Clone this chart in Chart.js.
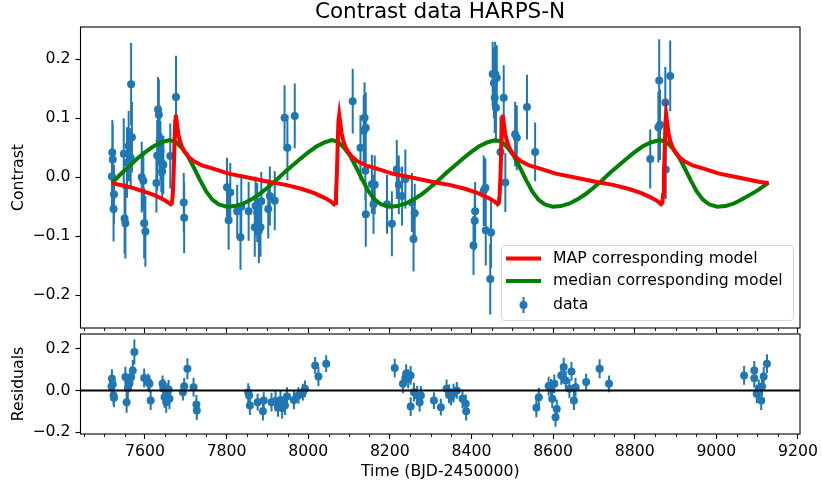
<!DOCTYPE html>
<html>
<head>
<meta charset="utf-8">
<script src="https://cdn.jsdelivr.net/npm/chart.js@4.4.1/dist/chart.umd.min.js"></script>
<style>
  html, body { margin: 0; padding: 0; background: #fff; }
  #wrap { position: relative; width: 822px; height: 487px; overflow: hidden; font-family: 'DejaVu Sans', sans-serif; }
  #title { position: absolute; left: 80px; width: 720px; top: -2px; line-height: 26px; text-align: center; font-size: 21.5px; color: #000; white-space: nowrap; }
  #topChart { position: absolute; left: 0; top: 0; }
  #resChart { position: absolute; left: 0; top: 330px; }
</style>
</head>
<body>
<div id="wrap">
  <canvas id="topChart" width="822" height="340"></canvas>
  <canvas id="resChart" width="822" height="157"></canvas>
  <div id="title">Contrast data HARPS-N</div>
</div>
<script>
// Axis ranges / ticks
const X_MIN = 7442, X_MAX = 9205;
const xTicks = [7600, 7800, 8000, 8200, 8400, 8600, 8800, 9000, 9200];
const yTicksTop = [-0.2, -0.1, 0.0, 0.1, 0.2];
const yTicksRes = [-0.2, 0.0, 0.2];

// Contrast data (time, value, error)
const dataTime = [7519, 7520, 7521, 7524, 7523, 7548, 7550, 7552, 7556, 7560, 7565, 7566, 7568,
  7592, 7596, 7598, 7601, 7628, 7630, 7632, 7634, 7636, 7638, 7640, 7642, 7645, 7662, 7676, 7695, 7696,
  7801, 7805, 7809, 7826, 7834, 7836, 7854, 7869, 7871, 7875, 7879, 7883, 7885, 7902, 7906, 7918, 7942, 7949, 7967,
  8109, 8128, 8136, 8138, 8141, 8140, 8141, 8156, 8160, 8163, 8193, 8205, 8217, 8222, 8230, 8238, 8254, 8261, 8258,
  8405, 8408, 8409, 8430, 8434, 8435, 8448, 8446, 8452, 8455, 8458, 8460, 8462, 8457, 8471, 8479, 8483, 8507, 8511, 8536, 8556,
  8838, 8858, 8860, 8862, 8875, 8876, 8887];
const dataContrast = [0.001, 0.042, 0.030, -0.029, -0.054, 0.040, -0.070, -0.078, 0.025, 0.053, 0.033, 0.158, 0.068,
  0.000, -0.006, -0.078, -0.092, -0.010, 0.037, 0.115, 0.106, 0.062, 0.045, 0.025, 0.010, 0.021, 0.036, 0.136, -0.043, -0.069,
  -0.017, -0.073, -0.026, -0.058, -0.102, -0.050, -0.058, -0.085, -0.049, -0.060, -0.091, -0.085, -0.041, -0.054, -0.032, -0.040, 0.101, 0.050, 0.104,
  0.129, 0.050, 0.079, 0.101, 0.084, 0.011, -0.063, -0.012, -0.046, -0.013, -0.046, -0.079, 0.013, -0.013, -0.032, -0.003, -0.043, -0.061, -0.105,
  -0.116, -0.074, -0.058, -0.023, -0.018, -0.090, -0.094, -0.173, 0.175, 0.160, 0.175, 0.118, 0.169, 0.135, 0.043, 0.135, -0.009, 0.073, 0.067, 0.119, 0.043,
  0.031, 0.085, 0.164, 0.089, 0.127, 0.013, 0.172];
const dataError = [0.050, 0.055, 0.060, 0.050, 0.055, 0.060, 0.060, 0.060, 0.060, 0.060, 0.050, 0.070, 0.060,
  0.060, 0.050, 0.060, 0.060, 0.050, 0.060, 0.055, 0.060, 0.060, 0.050, 0.050, 0.050, 0.050, 0.055, 0.070, 0.050, 0.060,
  0.050, 0.050, 0.050, 0.045, 0.055, 0.050, 0.050, 0.050, 0.050, 0.050, 0.055, 0.050, 0.050, 0.050, 0.050, 0.050, 0.055, 0.055, 0.055,
  0.055, 0.055, 0.060, 0.060, 0.060, 0.050, 0.055, 0.050, 0.050, 0.050, 0.050, 0.055, 0.050, 0.050, 0.050, 0.050, 0.050, 0.050, 0.055,
  0.050, 0.050, 0.050, 0.060, 0.050, 0.060, 0.060, 0.060, 0.055, 0.060, 0.055, 0.060, 0.055, 0.060, 0.060, 0.055, 0.050, 0.055, 0.055, 0.055, 0.050,
  0.050, 0.060, 0.070, 0.060, 0.060, 0.050, 0.060];

// MAP corresponding model
const mapTime = [7519, 7545, 7570, 7600, 7625, 7645, 7655, 7663, 7666, 7668, 7670, 7672, 7674, 7675.5,
  7678.5, 7681.5, 7685.5, 7690.5, 7697.5, 7707.5, 7720, 7740, 7765, 7805, 7855, 7905, 7945, 7985, 8015, 8040, 8055, 8063, 8066, 8068, 8070, 8072, 8074, 8076,
  8079, 8082, 8086, 8091, 8098, 8108, 8121, 8141, 8166, 8206, 8256, 8306, 8346, 8386, 8416, 8441, 8456, 8464, 8467, 8469, 8471, 8473, 8475, 8476.5,
  8479.5, 8482.5, 8486.5, 8491.5, 8498.5, 8508.5, 8521.5, 8541.5, 8566.5, 8606.5, 8656.5, 8706.5, 8746.5, 8786.5, 8816.5, 8841.5, 8856.5, 8864.5, 8867.5, 8869.5, 8871.5, 8873.5, 8875.5, 8877,
  8880, 8883, 8887, 8892, 8899, 8909, 8922, 8942, 8967, 9007, 9057, 9107, 9128];
const mapContrast = [-0.010, -0.014, -0.018, -0.025, -0.031, -0.038, -0.042, -0.046, -0.044, -0.030, 0.000, 0.050, 0.095, 0.106,
  0.090, 0.074, 0.062, 0.052, 0.043, 0.034, 0.027, 0.020, 0.015, 0.006, -0.001, -0.008, -0.013, -0.020, -0.027, -0.035, -0.041, -0.046, -0.044, -0.030, 0.000, 0.050, 0.095, 0.106,
  0.090, 0.074, 0.062, 0.052, 0.043, 0.034, 0.027, 0.020, 0.015, 0.006, -0.001, -0.008, -0.013, -0.020, -0.027, -0.035, -0.041, -0.046, -0.044, -0.030, 0.000, 0.050, 0.095, 0.106,
  0.090, 0.074, 0.062, 0.052, 0.043, 0.034, 0.027, 0.020, 0.015, 0.006, -0.001, -0.008, -0.013, -0.020, -0.027, -0.035, -0.041, -0.046, -0.044, -0.030, 0.000, 0.050, 0.095, 0.106,
  0.090, 0.074, 0.062, 0.052, 0.043, 0.034, 0.027, 0.020, 0.015, 0.006, -0.001, -0.008, -0.010];

// median corresponding model
const medTime = [7519, 7540, 7560, 7580, 7600, 7620, 7640, 7660,
  7675, 7690, 7705, 7720, 7735, 7750, 7765, 7780, 7800, 7820, 7840, 7860, 7880, 7900, 7920, 7940, 7960, 7980, 8000, 8020, 8040, 8058,
  8073, 8088, 8103, 8118, 8133, 8148, 8163, 8178, 8198, 8218, 8238, 8258, 8278, 8298, 8318, 8338, 8358, 8378, 8398, 8418, 8438, 8459,
  8474, 8489, 8504, 8519, 8534, 8549, 8564, 8579, 8599, 8619, 8639, 8659, 8679, 8699, 8719, 8739, 8759, 8779, 8799, 8819, 8839, 8862,
  8877, 8892, 8907, 8922, 8937, 8952, 8967, 8982, 9002, 9022, 9042, 9062, 9082, 9102, 9128];
const medContrast = [-0.010, 0.005, 0.018, 0.031, 0.042, 0.052, 0.059, 0.063,
  0.060, 0.050, 0.036, 0.016, -0.005, -0.024, -0.038, -0.046, -0.050, -0.049, -0.045, -0.038, -0.029, -0.018, -0.006, 0.007, 0.019, 0.031, 0.042, 0.052, 0.059, 0.063,
  0.060, 0.050, 0.036, 0.016, -0.005, -0.024, -0.038, -0.046, -0.050, -0.049, -0.045, -0.038, -0.029, -0.018, -0.006, 0.007, 0.019, 0.031, 0.042, 0.052, 0.059, 0.063,
  0.060, 0.050, 0.036, 0.016, -0.005, -0.024, -0.038, -0.046, -0.050, -0.049, -0.045, -0.038, -0.029, -0.018, -0.006, 0.007, 0.019, 0.031, 0.042, 0.052, 0.059, 0.063,
  0.060, 0.050, 0.036, 0.016, -0.005, -0.024, -0.038, -0.046, -0.050, -0.049, -0.045, -0.038, -0.030, -0.022, -0.009];

// Residuals (time, value, error)
const resTime = [7518, 7519, 7521, 7523, 7524, 7552, 7555, 7558, 7562, 7566, 7570, 7574, 7598, 7608, 7611, 7614,
  7643, 7645, 7648, 7652, 7655, 7658, 7660, 7693, 7696, 7704, 7719, 7726, 7727,
  7853, 7855, 7857, 7876, 7889, 7891, 7910, 7920, 7926, 7932, 7936, 7943, 7948, 7965, 7976, 7987, 7992, 8017, 8025, 8044,
  8212, 8232, 8238, 8240, 8245, 8251, 8251, 8259, 8267, 8273, 8276, 8308, 8325, 8339, 8345, 8350, 8356, 8364, 8378, 8386, 8387,
  8559, 8565, 8589, 8595, 8598, 8603, 8606, 8609, 8620, 8626, 8631, 8640, 8645, 8651, 8655, 8681, 8714, 8737,
  9068, 9093, 9093, 9099, 9104, 9110, 9112, 9116, 9124];
const resValue = [0.019, 0.056, 0.030, -0.024, -0.035, 0.064, -0.056, 0.010, 0.035, 0.064, 0.096, 0.184, 0.060, 0.040, 0.032, -0.048,
  0.032, 0.010, -0.032, -0.056, -0.010, 0.005, -0.040, -0.008, 0.020, 0.104, 0.016, -0.067, -0.096,
  -0.010, -0.024, -0.072, -0.056, -0.099, -0.048, -0.056, -0.050, -0.080, -0.045, -0.085, -0.072, -0.029, -0.045, -0.024, -0.008, 0.008, 0.120, 0.067, 0.128,
  0.107, 0.032, 0.060, 0.080, 0.056, 0.072, -0.077, -0.008, -0.024, -0.056, -0.024, -0.048, -0.080, 0.008, -0.016, -0.030, -0.013, 0.000, -0.040, -0.064, -0.099,
  -0.083, -0.032, 0.021, 0.010, -0.040, 0.032, -0.128, -0.088, 0.072, 0.112, 0.048, 0.008, 0.091, -0.048, 0.016, 0.040, 0.104, 0.032,
  0.072, 0.096, 0.059, -0.016, 0.008, -0.048, 0.019, 0.067, 0.128];
const resError = [0.045, 0.045, 0.040, 0.045, 0.045, 0.050, 0.050, 0.050, 0.040, 0.050, 0.050, 0.060, 0.045, 0.040, 0.040, 0.045,
  0.040, 0.045, 0.050, 0.050, 0.045, 0.045, 0.050, 0.040, 0.040, 0.050, 0.045, 0.045, 0.045,
  0.045, 0.045, 0.045, 0.040, 0.045, 0.040, 0.045, 0.050, 0.045, 0.045, 0.050, 0.045, 0.045, 0.045, 0.040, 0.040, 0.040, 0.040, 0.045, 0.040,
  0.045, 0.045, 0.040, 0.045, 0.045, 0.045, 0.045, 0.045, 0.045, 0.045, 0.045, 0.040, 0.040, 0.045, 0.045, 0.040, 0.045, 0.040, 0.045, 0.045, 0.045,
  0.045, 0.045, 0.045, 0.045, 0.045, 0.045, 0.045, 0.045, 0.045, 0.045, 0.045, 0.045, 0.045, 0.045, 0.045, 0.040, 0.045, 0.040,
  0.045, 0.045, 0.045, 0.045, 0.045, 0.045, 0.045, 0.045, 0.045];

// Colours
const BLUE = '#1f77b4';
const RED = '#ff0000';
const GREEN = '#008000';
const FONT = { family: "'DejaVu Sans', sans-serif", size: 15.7 };

Chart.defaults.font.family = FONT.family;
Chart.defaults.color = '#000';

function fmtY(v) {
  return (v < 0 ? '\u2212' : '') + Math.abs(v).toFixed(1);
}

function toPoints(xs, ys) {
  return xs.map((t, i) => ({ x: t, y: ys[i] }));
}

// vertical error bars drawn through the chart's own scales
function errorBarPlugin(times, values, errors) {
  return {
    id: 'errorBars',
    beforeDatasetsDraw(chart) {
      const { ctx, chartArea: a, scales: { x, y } } = chart;
      ctx.save();
      ctx.beginPath();
      ctx.rect(a.left, a.top, a.right - a.left, a.bottom - a.top);
      ctx.clip();
      ctx.strokeStyle = BLUE;
      ctx.lineWidth = 2;
      ctx.beginPath();
      times.forEach((t, i) => {
        const px = x.getPixelForValue(t);
        ctx.moveTo(px, y.getPixelForValue(values[i] - errors[i]));
        ctx.lineTo(px, y.getPixelForValue(values[i] + errors[i]));
      });
      ctx.stroke();
      ctx.restore();
    }
  };
}

// axes frame + minor x ticks (matplotlib style)
const framePlugin = {
  id: 'frame',
  afterDatasetsDraw(chart) {
    const { ctx, chartArea: a, scales: { x } } = chart;
    ctx.save();
    ctx.strokeStyle = '#000';
    ctx.lineWidth = 0.9;
    ctx.beginPath();
    for (let v = 7450; v <= 9200; v += 50) {
      if (xTicks.includes(v)) continue;
      const px = Math.round(x.getPixelForValue(v)) + 0.5;
      ctx.moveTo(px, a.bottom);
      ctx.lineTo(px, a.bottom + 3);
    }
    ctx.stroke();
    ctx.lineWidth = 1.1;
    ctx.strokeRect(a.left, a.top, a.right - a.left, a.bottom - a.top);
    ctx.restore();
  }
};

// legend box like matplotlib's
const legendPlugin = {
  id: 'mplLegend',
  afterDraw(chart) {
    const { ctx, chartArea: a } = chart;
    const w = 292, h = 75;
    const left = a.right - 7 - w, top = a.bottom - 8 - h;
    ctx.save();
    ctx.beginPath();
    ctx.roundRect(left + 0.5, top + 0.5, w, h, 3);
    ctx.fillStyle = 'rgba(255,255,255,0.8)';
    ctx.fill();
    ctx.strokeStyle = '#d6d6d6';
    ctx.lineWidth = 1;
    ctx.stroke();

    const rows = [top + 13.5, top + 36, top + 60];
    ctx.lineWidth = 4;
    ctx.strokeStyle = RED;
    ctx.beginPath(); ctx.moveTo(left + 5, rows[0]); ctx.lineTo(left + 40, rows[0]); ctx.stroke();
    ctx.strokeStyle = GREEN;
    ctx.beginPath(); ctx.moveTo(left + 5, rows[1]); ctx.lineTo(left + 40, rows[1]); ctx.stroke();

    ctx.strokeStyle = BLUE;
    ctx.lineWidth = 2;
    ctx.beginPath(); ctx.moveTo(left + 22.5, rows[2] - 8); ctx.lineTo(left + 22.5, rows[2] + 8); ctx.stroke();
    ctx.fillStyle = BLUE;
    ctx.beginPath(); ctx.arc(left + 22.5, rows[2], 4, 0, Math.PI * 2); ctx.fill();

    ctx.fillStyle = '#000';
    ctx.font = FONT.size + 'px ' + FONT.family;
    ctx.textBaseline = 'middle';
    ctx.textAlign = 'left';
    ctx.fillText('MAP corresponding model', left + 52, rows[0]);
    ctx.fillText('median corresponding model', left + 52, rows[1]);
    ctx.fillText('data', left + 52, rows[2]);
    ctx.restore();
  }
};

function xScale(showLabels, height) {
  return {
    type: 'linear',
    position: 'bottom',
    min: X_MIN,
    max: X_MAX,
    afterBuildTicks: (s) => { s.ticks = xTicks.map(v => ({ value: v })); },
    afterFit: (s) => { s.height = height; s.paddingLeft = 0; s.paddingRight = 0; },
    grid: { display: true, drawOnChartArea: false, drawTicks: true, tickLength: 5, tickColor: '#000', tickWidth: 1.1 },
    border: { display: false },
    ticks: {
      display: showLabels,
      autoSkip: false,
      maxRotation: 0,
      padding: 4,
      color: '#000',
      font: FONT,
      callback: (v) => String(v)
    },
    title: {
      display: showLabels,
      text: 'Time (BJD-2450000)',
      color: '#000',
      font: FONT,
      padding: { top: 0, bottom: 6 }
    }
  };
}

function yScale(min, max, ticks, label) {
  return {
    type: 'linear',
    min: min,
    max: max,
    afterBuildTicks: (s) => { s.ticks = ticks.map(v => ({ value: v })); },
    afterFit: (s) => { s.width = 80.5; s.paddingTop = 0; s.paddingBottom = 0; },
    grid: { display: true, drawOnChartArea: false, drawTicks: true, tickLength: 5, tickColor: '#000', tickWidth: 1.1 },
    border: { display: false },
    ticks: { color: '#000', font: FONT, padding: 5, callback: (v) => fmtY(v) },
    title: { display: true, text: label, color: '#000', font: FONT, padding: { top: 9.6, bottom: 0 } }
  };
}

// Top panel
new Chart(document.getElementById('topChart'), {
  type: 'scatter',
  data: {
    datasets: [
      {
        label: 'MAP corresponding model',
        data: toPoints(mapTime, mapContrast),
        showLine: true,
        borderColor: RED,
        borderWidth: 4,
        pointRadius: 0,
        order: 0
      },
      {
        label: 'median corresponding model',
        data: toPoints(medTime, medContrast),
        showLine: true,
        borderColor: GREEN,
        borderWidth: 4,
        pointRadius: 0,
        order: 1
      },
      {
        label: 'data',
        data: toPoints(dataTime, dataContrast),
        pointRadius: 4,
        pointBackgroundColor: BLUE,
        pointBorderWidth: 0,
        order: 2
      }
    ]
  },
  options: {
    responsive: false,
    animation: false,
    events: [],
    layout: { padding: { top: 27, right: 22, left: 0, bottom: 0 } },
    plugins: { legend: { display: false }, tooltip: { enabled: false } },
    scales: {
      x: xScale(false, 12),
      y: yScale(-0.256, 0.255, yTicksTop, 'Contrast')
    }
  },
  plugins: [errorBarPlugin(dataTime, dataContrast, dataError), framePlugin, legendPlugin]
});

// Residual panel
new Chart(document.getElementById('resChart'), {
  type: 'scatter',
  data: {
    datasets: [
      {
        label: 'zero',
        data: [{ x: X_MIN, y: 0 }, { x: X_MAX, y: 0 }],
        showLine: true,
        borderColor: '#000',
        borderWidth: 2,
        pointRadius: 0,
        order: 0
      },
      {
        label: 'residuals',
        data: toPoints(resTime, resValue),
        pointRadius: 4,
        pointBackgroundColor: BLUE,
        pointBorderWidth: 0,
        order: 1
      }
    ]
  },
  options: {
    responsive: false,
    animation: false,
    events: [],
    layout: { padding: { top: 4, right: 22, left: 0, bottom: 0 } },
    plugins: { legend: { display: false }, tooltip: { enabled: false } },
    scales: {
      x: xScale(true, 53),
      y: yScale(-0.208, 0.27, yTicksRes, 'Residuals')
    }
  },
  plugins: [errorBarPlugin(resTime, resValue, resError), framePlugin]
});
</script>
</body>
</html>
